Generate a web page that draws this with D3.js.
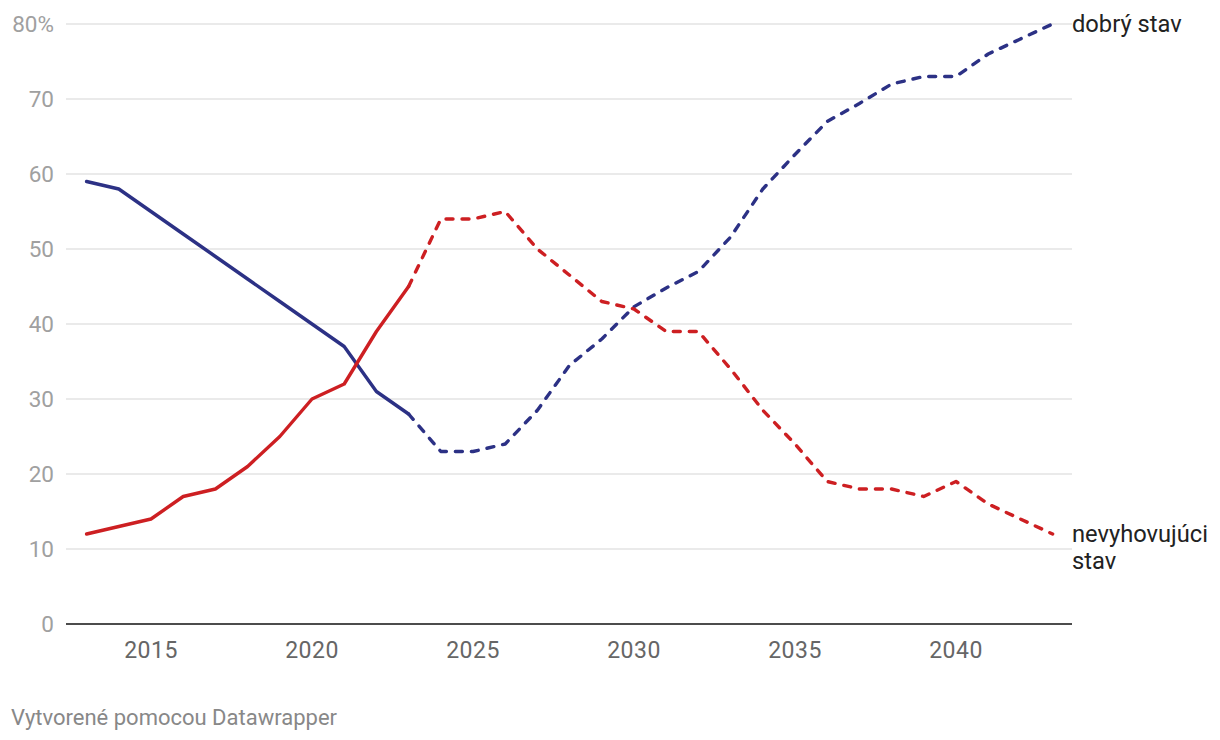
<!DOCTYPE html>
<html><head><meta charset="utf-8">
<script src="https://cdn.jsdelivr.net/npm/d3@7/dist/d3.min.js"></script>
<style>body{margin:0;background:#fff;font-family:Roboto,sans-serif}</style>
</head><body><svg id="c" width="1220" height="740"></svg>
<script>
const years = d3.range(2013, 2044);
const good = [59,58,55,52,49,46,43,40,37,31,28,23,23,24,28.5,34.5,38,42.3,44.8,47,51.6,58,62.6,67,69.4,72,73,73,76,78,80];
const bad  = [12,13,14,17,18,21,25,30,32,39,45,54,54,55,50,46.5,43,42,39,39,34,28.5,24,19,18,18,17,19,16,14,12];
const lastActual = 2023;
const yTicks = [0,10,20,30,40,50,60,70,80];
const xTicks = [2015,2020,2025,2030,2035,2040];
const seriesNames = ["dobrý stav", ["nevyhovujúci","stav"]];
const colors = ["#2c3185", "#cd1f22"];

const svg = d3.select("#c");
const x = d3.scaleLinear().domain([2013,2043]).range([86.6,1052.6]);
const y = d3.scaleLinear().domain([0,80]).range([624,24]);
const L = 66, R = 1072;

svg.append("g").selectAll("line").data(yTicks.filter(d=>d>0)).join("line")
  .attr("x1",L).attr("x2",R).attr("y1",d=>y(d)).attr("y2",d=>y(d))
  .attr("stroke","#e3e3e3").attr("stroke-width",1.3);
svg.append("g").selectAll("text").data(yTicks).join("text")
  .attr("x",54).attr("y",d=>y(d)).attr("dy","0.35em").attr("text-anchor","end")
  .attr("fill","#a0a0a0").attr("font-size",22.5).text(d=>d===80?"80%":d);
svg.append("line").attr("x1",L).attr("x2",R).attr("y1",y(0)).attr("y2",y(0))
  .attr("stroke","#111").attr("stroke-width",1.6);
svg.append("g").selectAll("text").data(xTicks).join("text")
  .attr("x",d=>x(d)).attr("y",658).attr("text-anchor","middle")
  .attr("fill","#666").attr("font-size",23).attr("letter-spacing","0.5px").text(d=>d);

const line = d3.line().x(d=>x(d[0])).y(d=>y(d[1]));
[good,bad].forEach((vals,i)=>{
  const pts = years.map((yr,k)=>[yr,vals[k]]);
  svg.append("path").attr("d",line(pts.filter(p=>p[0]<=lastActual)))
    .attr("fill","none").attr("stroke",colors[i]).attr("stroke-width",3.4)
    .attr("stroke-linecap","round").attr("stroke-linejoin","round");
  svg.append("path").attr("d",line(pts.filter(p=>p[0]>=lastActual)))
    .attr("fill","none").attr("stroke",colors[i]).attr("stroke-width",3.4)
    .attr("stroke-dasharray","7,9").attr("stroke-linecap","round").attr("stroke-linejoin","round");
});

svg.append("text").attr("x",1072).attr("y",32)
  .attr("font-size",23.7).attr("fill","#222").text(seriesNames[0]);
seriesNames[1].forEach((s,k)=>svg.append("text").attr("x",1072).attr("y",542 + k*27)
  .attr("font-size",23.7).attr("fill","#222").text(s));

svg.append("text").attr("x",11).attr("y",725).attr("font-size",22).attr("fill","#888")
  .text("Vytvorené pomocou Datawrapper");
</script></body></html>
